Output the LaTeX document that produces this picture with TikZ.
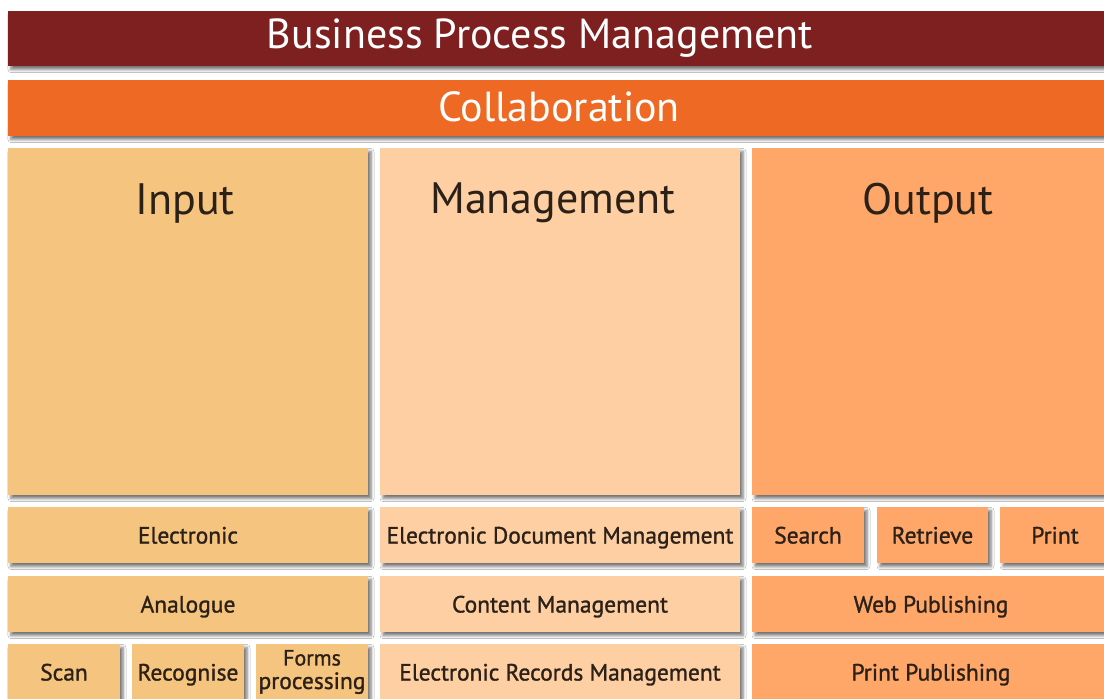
\documentclass[tikz,border=0pt]{standalone}
\usepackage{fontspec}
\setmainfont{PT Sans}
\newfontfamily\tilefont[FakeBold=1.2]{PT Sans}
\usetikzlibrary{shadows.blur}
\definecolor{bpmred}{HTML}{7E1F20}
\definecolor{collab}{HTML}{EE6923}
\definecolor{inputc}{HTML}{F5C47E}
\definecolor{mgmtc}{HTML}{FDCFA2}
\definecolor{outc}{HTML}{FFA768}
\definecolor{ink}{HTML}{2C2118}
\tikzset{
  tile/.style={anchor=north west, inner sep=0pt, outer sep=0pt, align=center,
    text=ink, font=\tilefont\fontsize{23.5}{23.5}\selectfont,
    text height=19pt, text depth=2pt,
    blur shadow={shadow xshift=3pt, shadow yshift=-3.5pt, shadow blur radius=3pt, shadow opacity=55}},
  band/.style={tile},
  bandtext/.style={anchor=center, inner sep=0pt, text=white, font=\fontsize{42}{42}\selectfont},
  head/.style={anchor=center, inner sep=0pt, text=ink, font=\fontsize{44}{44}\selectfont},
}
\begin{document}
\begin{tikzpicture}[x=1pt,y=-1pt]
\useasboundingbox (0,0) rectangle (1104,699);
\clip (0,0) rectangle (1104,699);
\fill[white] (0,0) rectangle (1104,699);

% top bands
\node[band, fill=bpmred, minimum width=1110pt, minimum height=55pt] (bpm) at (8,11) {};
\node[bandtext] (bpmT) at (540,38.5) {Business Process Management};
\node[band, fill=collab, minimum width=1110pt, minimum height=56pt] (collab) at (8,80) {};
\node[bandtext] (collabT) at (559,107) {Collaboration};

% main panels
\node[tile, fill=inputc, minimum width=360pt, minimum height=347pt] (input) at (8,148) {};
\node[tile, fill=mgmtc, minimum width=360pt, minimum height=347pt] (mgmt) at (380,148) {};
\node[tile, fill=outc, minimum width=356pt, minimum height=347pt] (output) at (752,148) {};
\node[head] (inputT) at (185,203) {Input};
\node[head] (mgmtT) at (553,203) {Management};
\node[head] (outputT) at (928,203) {Output};

% first row
\node[tile, fill=inputc, minimum width=360pt, minimum height=56pt] (elec) at (8,507) {Electronic};
\node[tile, fill=mgmtc, minimum width=360pt, minimum height=56pt] (edm) at (380,507) {Electronic Document Management};
\node[tile, fill=outc, minimum width=112pt, minimum height=56pt] (search) at (752,507) {Search};
\node[tile, fill=outc, minimum width=111pt, minimum height=56pt] (retrieve) at (877,507) {Retrieve};
\node[tile, fill=outc, minimum width=110pt, minimum height=56pt] (print) at (1000,507) {Print};

% second row
\node[tile, fill=inputc, minimum width=360pt, minimum height=56pt] (analogue) at (8,576) {Analogue};
\node[tile, fill=mgmtc, minimum width=360pt, minimum height=56pt] (content) at (380,576) {Content Management};
\node[tile, fill=outc, minimum width=358pt, minimum height=56pt] (web) at (752,576) {Web Publishing};

% third row
\node[tile, fill=inputc, minimum width=112pt, minimum height=56pt] (scan) at (8,644) {Scan};
\node[tile, fill=inputc, minimum width=112pt, minimum height=56pt] (recog) at (132,644) {Recognise};
\node[tile, fill=inputc, minimum width=112pt, minimum height=56pt, text height=, text depth=] (forms) at (256,644) {\fontsize{22}{19}\selectfont Forms\\processing};
\node[tile, fill=mgmtc, minimum width=360pt, minimum height=56pt] (erm) at (380,644) {Electronic Records Management};
\node[tile, fill=outc, minimum width=358pt, minimum height=56pt] (printpub) at (752,644) {Print Publishing};
\end{tikzpicture}
\end{document}
